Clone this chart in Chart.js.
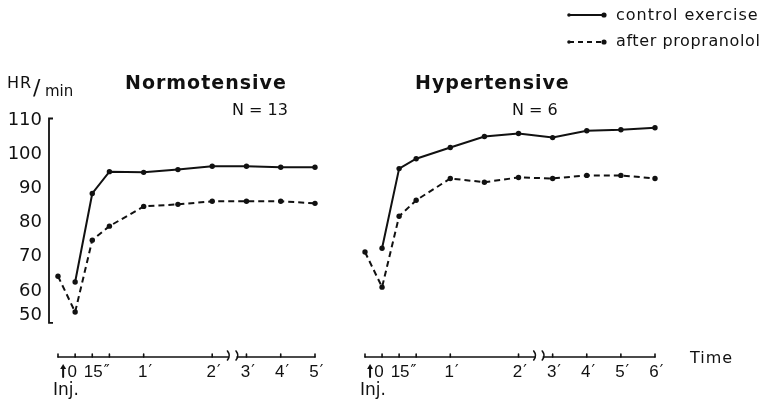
<!DOCTYPE html>
<html>
<head>
<meta charset="utf-8">
<title>Heart rate, control exercise vs. after propranolol</title>
<script src="https://cdn.jsdelivr.net/npm/chart.js@4.4.1/dist/chart.umd.min.js"></script>
<style>
  body { margin: 0; background: #fff; }
  #wrap { position: relative; width: 766px; height: 408px; overflow: hidden; font-family: "DejaVu Sans", sans-serif; color: #111; }
  #wrap canvas { position: absolute; left: 0; top: 0; }
  .lbl { position: absolute; white-space: nowrap; line-height: 1; }
</style>
</head>
<body>
<div id="wrap">
  <canvas id="normChart" width="766" height="408"></canvas>
  <canvas id="hyperChart" width="766" height="408"></canvas>

  <span class="lbl" data-x="7" data-b="89" data-s="16" style="letter-spacing:1px">HR</span>
  <span class="lbl" data-x="33" data-b="96" data-s="22">/</span>
  <span class="lbl" data-x="45" data-b="97" data-s="15">min</span>

  <span class="lbl" data-x="125" data-b="89" data-s="19" style="font-weight:bold;letter-spacing:1px">Normotensive</span>
  <span class="lbl" data-x="232" data-b="116" data-s="16">N = 13</span>
  <span class="lbl" data-x="415" data-b="89" data-s="19" style="font-weight:bold;letter-spacing:1px">Hypertensive</span>
  <span class="lbl" data-x="512" data-b="116" data-s="16">N = 6</span>

  <span class="lbl" data-x="616" data-b="21" data-s="16" style="letter-spacing:1px">control exercise</span>
  <span class="lbl" data-x="616" data-b="47" data-s="16" style="letter-spacing:0.6px">after propranolol</span>

  <span class="lbl" data-x="690" data-b="364" data-s="16" style="letter-spacing:1px">Time</span>
</div>
<script>
const ink = '#111';

// x positions on the drawn time axis: 1 unit = 15 s up to 2', then 1 unit = 30 s
// (the axis is broken between 2' and 3'); -1 is the reading before the injection
const timesNorm = [-1, 0, 1, 2, 4, 6, 8, 10, 12, 14];
const timesHyper = [-1, 0, 1, 2, 4, 6, 8, 10, 12, 14, 16];

// heart rate, beats/min
const normControl = [null, 62, 88, 94.4, 94.2, 95, 96, 96, 95.7, 95.7];
const normPropranolol = [63.7, 53.2, 74.3, 78.4, 84.2, 84.8, 85.7, 85.7, 85.7, 85.1];
const hyperControl = [null, 71.9, 95.3, 98.2, 101.5, 104.7, 105.6, 104.4, 106.4, 106.7, 107.3];
const hyperPropranolol = [70.8, 60.5, 81.3, 86.0, 92.4, 91.3, 92.7, 92.4, 93.3, 93.3, 92.4];

const yTicks = [50, 60, 70, 80, 90, 100, 110];
const tickMarksNorm = [-1, 0, 1, 2, 4, 8, 10, 12, 14];
const tickMarksHyper = [-1, 0, 1, 2, 4, 8, 10, 12, 14, 16];
const tickLabelPos = [0, 1, 4, 8, 10, 12, 14, 16];
const tickLabels = ['0', '15', '1', '2', '3', '4', '5', '6'];
const tickUnits = ['', '\u2033', '\u2032', '\u2032', '\u2032', '\u2032', '\u2032', '\u2032'];
const axisBreak = [8.95, 9.45];

// text sits on a baseline: top = baseline - 0.846em for DejaVu Sans at line-height 1
document.querySelectorAll('.lbl').forEach(el => {
  const s = +el.dataset.s;
  el.style.fontSize = s + 'px';
  el.style.left = el.dataset.x + 'px';
  el.style.top = (+el.dataset.b - 0.846 * s) + 'px';
});

const timeAxis = {
  id: 'timeAxis',
  afterDraw(chart, args, o) {
    const ctx = chart.ctx;
    const xs = chart.scales.x, ys = chart.scales.y;
    const px = v => xs.getPixelForValue(v);
    const base = ys.getPixelForValue(ys.min);
    ctx.save();
    ctx.strokeStyle = ink;
    ctx.fillStyle = ink;
    ctx.lineWidth = 1.6;
    ctx.lineCap = 'round';

    // time axis in two pieces
    ctx.beginPath();
    ctx.moveTo(px(xs.min), base);
    ctx.lineTo(px(axisBreak[0]), base);
    ctx.moveTo(px(axisBreak[1]), base);
    ctx.lineTo(px(xs.max), base);
    ctx.stroke();
    axisBreak.forEach(g => {
      const x = px(g);
      ctx.beginPath();
      ctx.moveTo(x - 1, base + 3);
      ctx.quadraticCurveTo(x + 2.5, base - 1.5, x - 1, base - 6);
      ctx.stroke();
    });

    ctx.beginPath();
    o.marks.forEach(t => {
      const x = px(t);
      ctx.moveTo(x, base);
      ctx.lineTo(x, base - 3);
    });
    ctx.stroke();

    ctx.textBaseline = 'alphabetic';
    for (let i = 0; i < o.nLabels; i++) {
      ctx.font = '17px "Liberation Sans"';
      ctx.textAlign = 'center';
      const w = ctx.measureText(tickLabels[i]).width;
      const cx = px(tickLabelPos[i]) + (i === 0 ? -3 : i === 1 ? 1 : -1);
      ctx.fillText(tickLabels[i], cx, base + 20);
      if (tickUnits[i]) {
        ctx.font = '16px "DejaVu Sans"';
        ctx.textAlign = 'left';
        ctx.fillText(tickUnits[i], cx + w / 2 + 1, base + 19);
      }
    }

    // injection arrow under 0
    const xa = px(0) - 12;
    ctx.lineWidth = 2;
    ctx.beginPath();
    ctx.moveTo(xa, base + 20);
    ctx.lineTo(xa, base + 10);
    ctx.stroke();
    ctx.beginPath();
    ctx.moveTo(xa - 3, base + 12);
    ctx.lineTo(xa, base + 7);
    ctx.lineTo(xa + 3, base + 12);
    ctx.closePath();
    ctx.fill();
    ctx.font = '17px "DejaVu Sans"';
    ctx.textAlign = 'left';
    ctx.fillText('Inj.', px(xs.min) - 5, base + 38);

    if (o.yAxis) {
      const x = chart.chartArea.left - 9;
      const yTop = ys.getPixelForValue(yTicks[yTicks.length - 1]);
      const yBot = ys.getPixelForValue(yTicks[0]);
      ctx.lineWidth = 1.8;
      ctx.lineCap = 'butt';
      ctx.beginPath();
      ctx.moveTo(x + 4, yTop);
      ctx.lineTo(x, yTop);
      ctx.lineTo(x, yBot);
      ctx.lineTo(x + 4, yBot);
      ctx.stroke();
      ctx.font = '18px "DejaVu Sans"';
      ctx.textAlign = 'right';
      ctx.textBaseline = 'middle';
      yTicks.forEach((v, i) => {
        const dy = i === 0 ? -8 : 2;
        ctx.fillText(String(v), x - 7, ys.getPixelForValue(v) + dy);
      });
    }

    if (o.key) {
      // legend samples
      ctx.lineWidth = 2;
      ctx.lineCap = 'butt';
      [[15, []], [42, [5, 4]]].forEach(([y, dash]) => {
        ctx.setLineDash(dash);
        ctx.beginPath();
        ctx.moveTo(569, y);
        ctx.lineTo(604, y);
        ctx.stroke();
        ctx.setLineDash([]);
        ctx.beginPath();
        ctx.arc(569, y, 1.8, 0, Math.PI * 2);
        ctx.arc(604, y, 2.6, 0, Math.PI * 2);
        ctx.fill();
      });
    }
    ctx.restore();
  }
};

function series(times, values, dashed) {
  return {
    data: times.map((t, i) => ({ x: t, y: values[i] })),
    borderColor: ink,
    backgroundColor: ink,
    borderWidth: 2,
    borderDash: dashed ? [6, 4] : [],
    pointRadius: 2.7,
    pointHoverRadius: 2.7,
    pointBorderWidth: 0,
    tension: 0,
    clip: false
  };
}

function makePanel(id, times, control, prop, xMax, pad, axisOpts) {
  return new Chart(document.getElementById(id), {
    type: 'line',
    data: { datasets: [series(times, prop, true), series(times, control, false)] },
    options: {
      responsive: false,
      animation: false,
      events: [],
      layout: { padding: pad },
      plugins: {
        legend: { display: false },
        tooltip: { enabled: false },
        timeAxis: axisOpts
      },
      scales: {
        x: { type: 'linear', min: -1, max: xMax, display: false },
        y: { type: 'linear', min: 40, max: 110, display: false }
      }
    },
    plugins: [timeAxis]
  });
}

makePanel('normChart', timesNorm, normControl, normPropranolol, 14,
  { left: 58, right: 451, top: 118.5, bottom: 51 },
  { marks: tickMarksNorm, nLabels: 7, yAxis: true, key: false });

makePanel('hyperChart', timesHyper, hyperControl, hyperPropranolol, 16,
  { left: 365, right: 111, top: 118.5, bottom: 51 },
  { marks: tickMarksHyper, nLabels: 8, yAxis: false, key: true });
</script>
</body>
</html>
